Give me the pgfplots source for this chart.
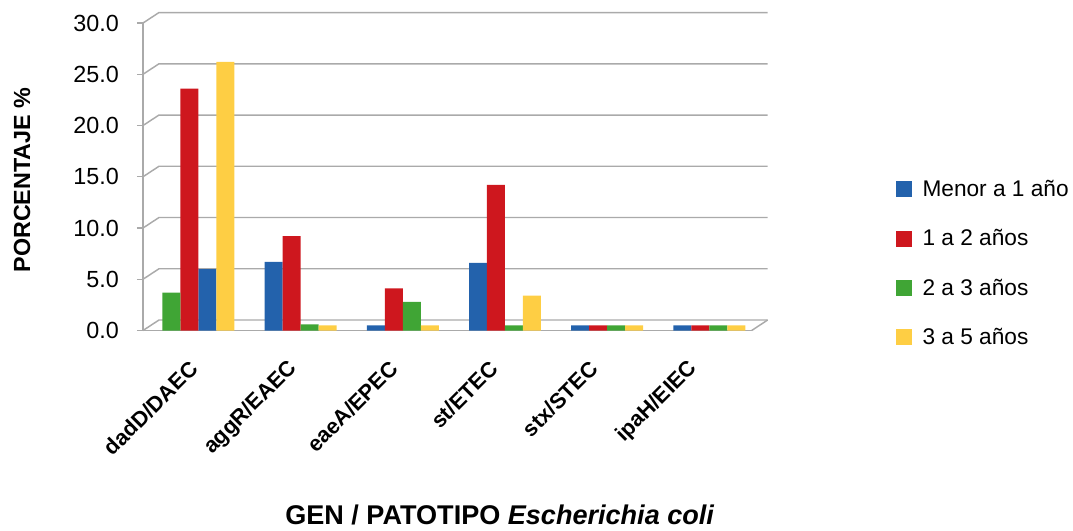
\documentclass[border=0pt]{standalone}
\usepackage{pgfplots}
\pgfplotsset{compat=1.18}
\usepackage{fontspec}
\setmainfont{Liberation Sans}
\definecolor{cblue}{RGB}{35,98,172}
\definecolor{cred}{RGB}{206,23,30}
\definecolor{cgreen}{RGB}{64,165,53}
\definecolor{cyellow}{RGB}{254,206,68}
\definecolor{gridc}{RGB}{170,170,170}
\pgfplotsset{
  sqlegend/.style={legend image code/.code={\fill[##1] (0pt,-6pt) rectangle (12pt,6pt);}},
  mybar/.style={ybar, bar width=0.176, bar shift=0pt, draw=none, fill=#1, sqlegend},
}
\begin{document}
\begin{tikzpicture}
\useasboundingbox (-107.25pt,-150.375pt) rectangle (697.5pt,247.875pt);
\begin{axis}[
  at={(0pt,0pt)}, anchor=south west,
  scale only axis, width=456.5pt, height=230.6pt,
  xmin=-0.542, xmax=5.414, ymin=0, ymax=30,
  clip=false,
  axis x line*=bottom, axis y line*=left,
  axis line style={gridc, line width=1.1pt, -},
  xtick={0,0.978,1.957,2.935,3.914,4.892},
  xticklabels={dadD/DAEC,aggR/EAEC,eaeA/EPEC,st/ETEC,stx/STEC,ipaH/EIEC},
  xtick style={draw=none},
  ytick={0,5,10,15,20,25,30},
  ytick style={gridc, line width=1.1pt},
  tick align=outside, major tick length=4.5pt,
  /pgf/number format/assume math mode=true,
  yticklabel style={/pgf/number format/fixed, /pgf/number format/fixed zerofill, /pgf/number format/precision=1},
  yticklabel style={font=\fontsize{17.5}{20}\selectfont, anchor=east, inner sep=0pt, xshift=-13.5pt},
  xticklabel style={font=\bfseries\fontsize{16.3}{19}\selectfont, inner sep=0pt, xshift=-3.3pt, yshift=-21.4pt, anchor=east, rotate=45},
  ylabel={PORCENTAJE \%},
  every axis y label/.style={at={(rel axis cs:0,0.5)}, xshift=-90.75pt, yshift=-2.4pt, rotate=90, anchor=center, font=\bfseries\fontsize{17.5}{20}\selectfont},
  xlabel={GEN / PATOTIPO \textit{Escherichia coli}},
  every axis x label/.style={at={(rel axis cs:0.5,0)}, xshift=39.4pt, yshift=-138.3pt, anchor=center, inner sep=0pt, font=\bfseries\fontsize{20.3}{24}\selectfont},
  legend style={at={(rel axis cs:1.2371,0.4894)}, anchor=north west, draw=none, fill=none, inner sep=0pt,
    font=\fontsize{17}{20}\selectfont, row sep=23.3pt, legend cell align=left, nodes={inner sep=0pt},
    /tikz/every odd column/.append style={column sep=7.7pt}},
]
\pgfplotsinvokeforeach{0,5,10,15,20,25,30}{
  \draw[gridc, line width=1.1pt] (axis cs:-0.542,#1) -- ++(12pt,7.875pt) -- ([xshift=12pt,yshift=7.875pt]axis cs:5.414,#1);
}
\draw[gridc, line width=1.1pt] (axis cs:5.414,0) -- ++(12pt,7.875pt);

\addplot[mybar=cblue] coordinates {(0.088,6.0) (0.736,6.7) (1.736,0.5) (2.736,6.6) (3.736,0.5) (4.736,0.5)};
\addlegendentry{Menor a 1 año}
\addplot[mybar=cred] coordinates {(-0.088,23.6) (0.912,9.2) (1.912,4.1) (2.912,14.2) (3.912,0.5) (4.912,0.5)};
\addlegendentry{1 a 2 años}
\addplot[mybar=cgreen] coordinates {(-0.264,3.7) (1.088,0.6) (2.088,2.8) (3.088,0.5) (4.088,0.5) (5.088,0.5)};
\addlegendentry{2 a 3 años}
\addplot[mybar=cyellow] coordinates {(0.264,26.2) (1.264,0.5) (2.264,0.5) (3.264,3.4) (4.264,0.5) (5.264,0.5)};
\addlegendentry{3 a 5 años}
\end{axis}
\end{tikzpicture}
\end{document}
